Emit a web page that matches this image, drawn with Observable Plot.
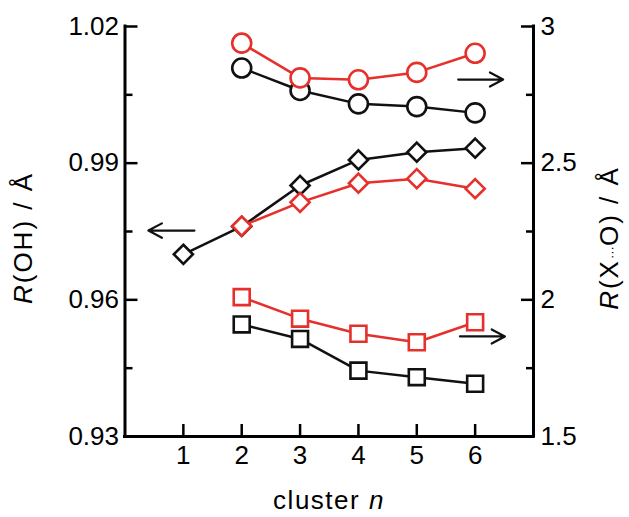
<!DOCTYPE html>
<html><head><meta charset="utf-8">
<script src="https://cdn.jsdelivr.net/npm/d3@7"></script>
<script src="https://cdn.jsdelivr.net/npm/@observablehq/plot@0.6"></script>
<style>html,body{margin:0;padding:0;background:#fff} svg{display:block}</style>
</head><body><div id="chart"></div>
<script>
// ---- data ----
const clusterN = [1, 2, 3, 4, 5, 6];
// R(OH), left axis (diamonds)
const rOH_black = [0.9700, 0.9761, 0.9851, 0.9907, 0.9924, 0.9933];
const rOH_red   = [null,   0.9762, 0.9814, 0.9856, 0.9866, 0.9844];
// R(X...O), right axis (circles and squares)
const rXO_circle_black = [null, 2.848, 2.766, 2.717, 2.707, 2.684];
const rXO_circle_red   = [null, 2.939, 2.812, 2.805, 2.832, 2.902];
const rXO_square_black = [null, 1.910, 1.857, 1.741, 1.717, 1.693];
const rXO_square_red   = [null, 2.010, 1.931, 1.876, 1.845, 1.918];

const leftDomain = [0.93, 1.02];
const rightDomain = [1.5, 3];
const leftMajor = [0.93, 0.96, 0.99, 1.02];
const leftMinor = [0.945, 0.975, 1.005];
const rightMajor = [1.5, 2, 2.5, 3];
const rightMinor = [1.75, 2.25, 2.75];
const xTicks = [1, 2, 3, 4, 5, 6];
const xDomain = [0, 7];

// direction arrows (n from -> n to, value on the named axis)
const arrows = [
  {n1: 1.19, n2: 0.40, v: 0.9752, axis: "left"},
  {n1: 5.71, n2: 6.48, v: 2.806, axis: "right"},
  {n1: 5.74, n2: 6.51, v: 1.866, axis: "right"}
];

const RED = "#e5302b", BLACK = "#111";
const FONT = "'Liberation Sans', Arial, Helvetica, sans-serif";

const k = (leftDomain[1] - leftDomain[0]) / (rightDomain[1] - rightDomain[0]);
const toL = r => leftDomain[0] + (r - rightDomain[0]) * k;
const fromL = v => rightDomain[0] + (v - leftDomain[0]) / k;

function series(vals, axis) {
  return clusterN.map((n, i) => ({n, v: vals[i] == null ? null : (axis === "right" ? toL(vals[i]) : vals[i])}))
    .filter(d => d.v != null);
}
const S = [
  {data: series(rOH_black, "left"), color: BLACK, symbol: "diamond2", r: 8.6},
  {data: series(rXO_circle_black, "right"), color: BLACK, symbol: "circle", r: 9.5},
  {data: series(rXO_square_black, "right"), color: BLACK, symbol: "square", r: 9.0},
  {data: series(rOH_red, "left"), color: RED, symbol: "diamond2", r: 8.6},
  {data: series(rXO_circle_red, "right"), color: RED, symbol: "circle", r: 9.5},
  {data: series(rXO_square_red, "right"), color: RED, symbol: "square", r: 9.0}
];

const arrowData = arrows.map(a => ({x1: a.n1, x2: a.n2, y: a.axis === "right" ? toL(a.v) : a.v}));

const seriesMarks = [];
for (const s of S) {
  seriesMarks.push(Plot.line(s.data, {x: "n", y: "v", stroke: s.color, strokeWidth: 2.5}));
  seriesMarks.push(Plot.dot(s.data, {x: "n", y: "v", symbol: s.symbol, r: s.r, stroke: s.color, fill: "white", strokeWidth: 2.6}));
}

const plot = Plot.plot({
  width: 629,
  height: 517,
  marginLeft: 124.5,
  marginRight: 96,
  marginTop: 26,
  marginBottom: 81,
  style: {fontFamily: FONT, fontSize: "26px", color: "#000", background: "#fff", overflow: "visible"},
  x: {domain: xDomain},
  y: {domain: leftDomain},
  marks: [
    Plot.axisX(xTicks, {tickSize: -12, tickPadding: 21, strokeWidth: 2.5, fontSize: 26, tickFormat: d => String(d), label: null}),
    Plot.axisY(leftMajor, {anchor: "left", tickSize: -13, tickPadding: 19, strokeWidth: 2.5, fontSize: 26, tickFormat: d => d.toFixed(2), label: null}),
    Plot.axisY(leftMinor, {anchor: "left", tickSize: -8, strokeWidth: 2.5, tickFormat: () => "", label: null}),
    Plot.axisY(rightMajor.map(toL), {anchor: "right", tickSize: -13, tickPadding: 20, strokeWidth: 2.5, fontSize: 26, tickFormat: d => String(+fromL(d).toFixed(2)), label: null}),
    Plot.axisY(rightMinor.map(toL), {anchor: "right", tickSize: -8, strokeWidth: 2.5, tickFormat: () => "", label: null}),
    Plot.ruleX(xDomain, {strokeWidth: 3, strokeLinecap: "square"}),
    Plot.ruleY([leftDomain[0]], {strokeWidth: 3, strokeLinecap: "square"}),
    Plot.arrow(arrowData, {x1: "x1", x2: "x2", y1: "y", y2: "y", stroke: BLACK, strokeWidth: 2.2, headLength: 14, headAngle: 56}),
    ...seriesMarks
  ]
});

const svg = d3.select(plot);
// axis titles with italic parts
const t1 = svg.append("text").attr("transform", "translate(32,238) rotate(-90)")
  .attr("text-anchor", "middle").attr("font-size", 26).attr("letter-spacing", 2).attr("font-family", FONT).attr("fill", "#000");
t1.append("tspan").attr("font-style", "italic").text("R");
t1.append("tspan").text("(OH) / Å");

const t2 = svg.append("text").attr("transform", "translate(618,238) rotate(-90)")
  .attr("text-anchor", "middle").attr("font-size", 26).attr("letter-spacing", 2).attr("font-family", FONT).attr("fill", "#000");
t2.append("tspan").attr("font-style", "italic").text("R");
t2.append("tspan").text("(X");
t2.append("tspan").attr("font-size", 13).attr("letter-spacing", 0).attr("dy", -2).text("···");
t2.append("tspan").attr("dy", 2).text("O) / Å");

const t3 = svg.append("text").attr("x", 329).attr("y", 509)
  .attr("text-anchor", "middle").attr("font-size", 26).attr("letter-spacing", 1.5).attr("font-family", FONT).attr("fill", "#000");
t3.append("tspan").text("cluster ");
t3.append("tspan").attr("font-style", "italic").text("n");

document.getElementById("chart").appendChild(plot);
</script>
</body></html>
